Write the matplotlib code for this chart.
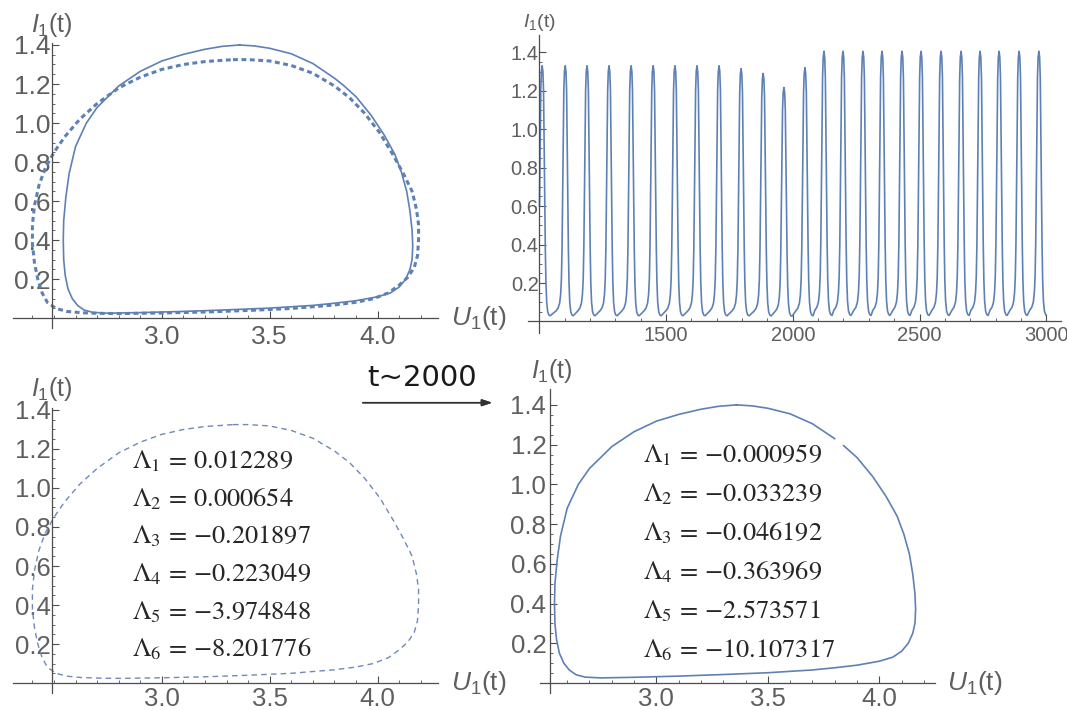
import numpy as np
import matplotlib.pyplot as plt
from matplotlib.ticker import FixedLocator

plt.rcParams['font.family'] = ['Liberation Sans', 'DejaVu Sans']
plt.rcParams['mathtext.fontset'] = 'custom'
plt.rcParams['mathtext.rm'] = 'Liberation Sans'
plt.rcParams['mathtext.it'] = 'Liberation Sans:italic'

# limit cycle after t~2000 (solid), read clockwise from the top
solid_u = [3.36, 3.43, 3.50, 3.60, 3.70, 3.80, 3.84, 3.90, 3.97, 4.03, 4.08, 4.11, 4.135,
           4.15, 4.16, 4.163, 4.16, 4.15, 4.13, 4.10, 4.06, 4.00, 3.90, 3.80, 3.70, 3.50,
           3.30, 3.10, 2.90, 2.75, 2.68, 2.64, 2.61, 2.585, 2.565, 2.552, 2.545, 2.543,
           2.545, 2.555, 2.57, 2.60, 2.65, 2.70, 2.80, 2.90, 3.00, 3.10, 3.20, 3.28, 3.36]
solid_i = [1.40, 1.395, 1.383, 1.355, 1.305, 1.23, 1.195, 1.135, 1.04, 0.94, 0.84, 0.75, 0.65,
           0.55, 0.45, 0.37, 0.30, 0.25, 0.20, 0.16, 0.13, 0.11, 0.09, 0.077, 0.066, 0.052,
           0.043, 0.035, 0.029, 0.026, 0.030, 0.042, 0.065, 0.10, 0.15, 0.22, 0.30, 0.40,
           0.50, 0.62, 0.74, 0.88, 1.00, 1.08, 1.19, 1.265, 1.318, 1.352, 1.378, 1.393, 1.40]
gap_index = 6  # small break in the lower-right copy

# cycle before t~2000 (dotted / dashed)
dot_u = [3.33, 3.40, 3.50, 3.60, 3.70, 3.80, 3.87, 3.94, 4.01, 4.07, 4.12, 4.16, 4.18, 4.19,
         4.19, 4.185, 4.17, 4.14, 4.10, 4.05, 3.98, 3.90, 3.80, 3.60, 3.40, 3.20, 3.00, 2.80,
         2.72, 2.63, 2.56, 2.51, 2.47, 2.445, 2.425, 2.41, 2.40, 2.40, 2.41, 2.43, 2.46, 2.50,
         2.55, 2.62, 2.70, 2.80, 2.90, 3.00, 3.10, 3.20, 3.33]
dot_i = [1.325, 1.325, 1.318, 1.295, 1.255, 1.19, 1.13, 1.05, 0.95, 0.84, 0.74, 0.65, 0.56, 0.48,
         0.40, 0.32, 0.26, 0.21, 0.17, 0.13, 0.10, 0.082, 0.068, 0.05, 0.04, 0.032, 0.027, 0.024,
         0.025, 0.028, 0.035, 0.05, 0.08, 0.13, 0.20, 0.28, 0.38, 0.48, 0.58, 0.68, 0.77, 0.85,
         0.93, 1.02, 1.10, 1.18, 1.235, 1.275, 1.30, 1.315, 1.325]

# time series: spike peak times and heights
peak_t = [1011, 1102, 1188, 1275, 1362, 1449, 1535, 1622, 1709, 1796, 1883, 1965, 2048,
          2123, 2198, 2277, 2352, 2431, 2506, 2585, 2664, 2739, 2814, 2893, 2971]
peak_h = [1.33, 1.33, 1.33, 1.33, 1.33, 1.33, 1.33, 1.33, 1.33, 1.315, 1.29, 1.217, 1.32,
          1.405, 1.405, 1.405, 1.405, 1.405, 1.405, 1.405, 1.405, 1.405, 1.405, 1.405, 1.405]
# one spike (offset from peak, value)
spike_dt = np.array([-36, -28, -22, -18, -15, -12.5, -10.5, -8, -5.5, -3, 0,
                     3, 5.5, 8, 10.5, 12.5, 15, 18, 22, 27, 32])
spike_i = np.array([0.055, 0.07, 0.095, 0.14, 0.22, 0.38, 0.60, 0.90, 1.20, 1.30, 1.33,
                    1.30, 1.20, 0.90, 0.60, 0.38, 0.20, 0.10, 0.05, 0.033, 0.03])

lyap_before = ['0.012289', '0.000654', '-0.201897', '-0.223049', '-3.974848', '-8.201776']
lyap_after = ['-0.000959', '-0.033239', '-0.046192', '-0.363969', '-2.573571', '-10.107317']

BLUE = '#5e81b5'
AXC = '#4d4d4d'
LBC = '#5f5f5f'

fig = plt.figure(figsize=(10.67, 7.10), dpi=100)


def style(ax, x0, xlim, ylim, xt, xlab, xminor, yt, yminor, fs, xpad, ypad):
    ax.set_xlim(xlim)
    ax.set_ylim(ylim)
    ax.patch.set_alpha(0)
    for s in ['top', 'right']:
        ax.spines[s].set_visible(False)
    ax.spines['left'].set_position(('data', x0))
    ax.spines['bottom'].set_position(('data', 0))
    for s in ['left', 'bottom']:
        ax.spines[s].set_color(AXC)
        ax.spines[s].set_linewidth(0.9)
    ax.set_xticks(xt, xlab)
    ax.set_yticks(yt, ['%.1f' % v for v in yt])
    ax.xaxis.set_minor_locator(FixedLocator(xminor))
    ax.yaxis.set_minor_locator(FixedLocator(yminor))
    ax.tick_params(which='both', direction='in', colors=AXC, labelcolor=LBC, labelsize=fs)
    ax.tick_params(which='major', length=5, width=0.8)
    ax.tick_params(which='minor', length=2.5, width=0.6)
    ax.tick_params(axis='x', pad=xpad)
    ax.tick_params(axis='y', pad=ypad)


def lyap_label(k, val):
    return r'$\Lambda_{%d}\,=\,{%s}$' % (k + 1, val)


uticks = [3.0, 3.5, 4.0]
ulabels = ['3.0', '3.5', '4.0']
iticks = [0.2, 0.4, 0.6, 0.8, 1.0, 1.2, 1.4]
iminor = np.arange(0.05, 1.45, 0.05)
uminor = np.arange(2.4, 4.25, 0.1)

# top left: both cycles
ax1 = fig.add_axes([0.01218, 0.5380, 0.3983, 0.4014])
style(ax1, 2.49, (2.31, 4.28), (-0.05, 1.41), uticks, ulabels, uminor, iticks, iminor, 19, 5, 1)
ax1.plot(solid_u, solid_i, color=BLUE, lw=1.2)
ax1.plot(dot_u, dot_i, color=BLUE, lw=2.2, ls=(0, (1.6, 1.15)), dash_capstyle='butt')
ax1.text(2.49, 1.50, r'$I_1\mathrm{(t)}$', ha='center', va='center', fontsize=18,
         color=LBC, clip_on=False)
ax1.text(4.34, 0, r'$U_1\mathrm{(t)}$', ha='left', va='center', fontsize=19,
         color=LBC, clip_on=False)

# top right: time series
ts_t, ts_i = [], []
for t0, h in zip(peak_t, peak_h):
    ts_t.extend(t0 + spike_dt)
    ts_i.extend(spike_i * h / spike_i.max())
ts_t = np.array(ts_t)
ts_i = np.array(ts_i)
keep = (ts_t >= 1000) & (ts_t <= 3000)

ax2 = fig.add_axes([0.4948, 0.5310, 0.4995, 0.4197])
style(ax2, 1000, (955, 3058), (-0.06, 1.49), [1500, 2000, 2500, 3000],
      ['1500', '2000', '2500', '3000'], np.arange(1000, 3001, 100), iticks, iminor, 14.5, 3.5, 0.5)
ax2.plot(ts_t[keep], ts_i[keep], color=BLUE, lw=1.2)
ax2.text(1000, 1.556, r'$I_1\mathrm{(t)}$', ha='center', va='center', fontsize=14,
         color=LBC, clip_on=False)

# bottom left: before transition
ax3 = fig.add_axes([0.01218, 0.02423, 0.3983, 0.4011])
style(ax3, 2.49, (2.31, 4.28), (-0.05, 1.41), uticks, ulabels, uminor, iticks, iminor, 18.5, 3, 1)
ax3.plot(dot_u, dot_i, color='#6f89b8', lw=1.0, ls=(0, (4, 3)))
ax3.text(2.49, 1.51, r'$I_1\mathrm{(t)}$', ha='center', va='center', fontsize=18,
         color=LBC, clip_on=False)
ax3.text(4.34, 0, r'$U_1\mathrm{(t)}$', ha='left', va='center', fontsize=19,
         color=LBC, clip_on=False)
for k, val in enumerate(lyap_before):
    ax3.text(2.861, 1.10 - 0.193 * k, lyap_label(k, val), fontsize=19,
             color='#262626', ha='left', va='baseline', math_fontfamily='stix')

# bottom right: after transition
ax4 = fig.add_axes([0.5061, 0.02394, 0.3702, 0.4282])
style(ax4, 2.525, (2.478, 4.25), (-0.05, 1.48), uticks, ulabels, np.arange(2.6, 4.25, 0.1),
      iticks, iminor, 18.5, 3, 3)
br_u = np.insert(np.array(solid_u), gap_index, np.nan)
br_i = np.insert(np.array(solid_i), gap_index, np.nan)
ax4.plot(br_u, br_i, color=BLUE, lw=1.2)
ax4.text(2.53, 1.57, r'$I_1\mathrm{(t)}$', ha='center', va='center', fontsize=18,
         color=LBC, clip_on=False)
ax4.text(4.306, 0, r'$U_1\mathrm{(t)}$', ha='left', va='center', fontsize=19,
         color=LBC, clip_on=False)
for k, val in enumerate(lyap_after):
    ax4.text(2.94, 1.111 - 0.196 * k, lyap_label(k, val), fontsize=19,
             color='#262626', ha='left', va='baseline', math_fontfamily='stix')

# transition arrow
fig.text(0.396, 0.4563, 't~2000', family='DejaVu Sans', fontsize=21, color='#1a1a1a',
         ha='center', va='baseline')
fig.add_artist(plt.annotate('', xy=(0.4639, 0.4328), xytext=(0.3374, 0.4328),
                            xycoords='figure fraction',
                            arrowprops=dict(arrowstyle='-|>,head_length=0.6,head_width=0.2',
                                            color='#333333', lw=1.1)))

fig.savefig('out.png', dpi=100)
